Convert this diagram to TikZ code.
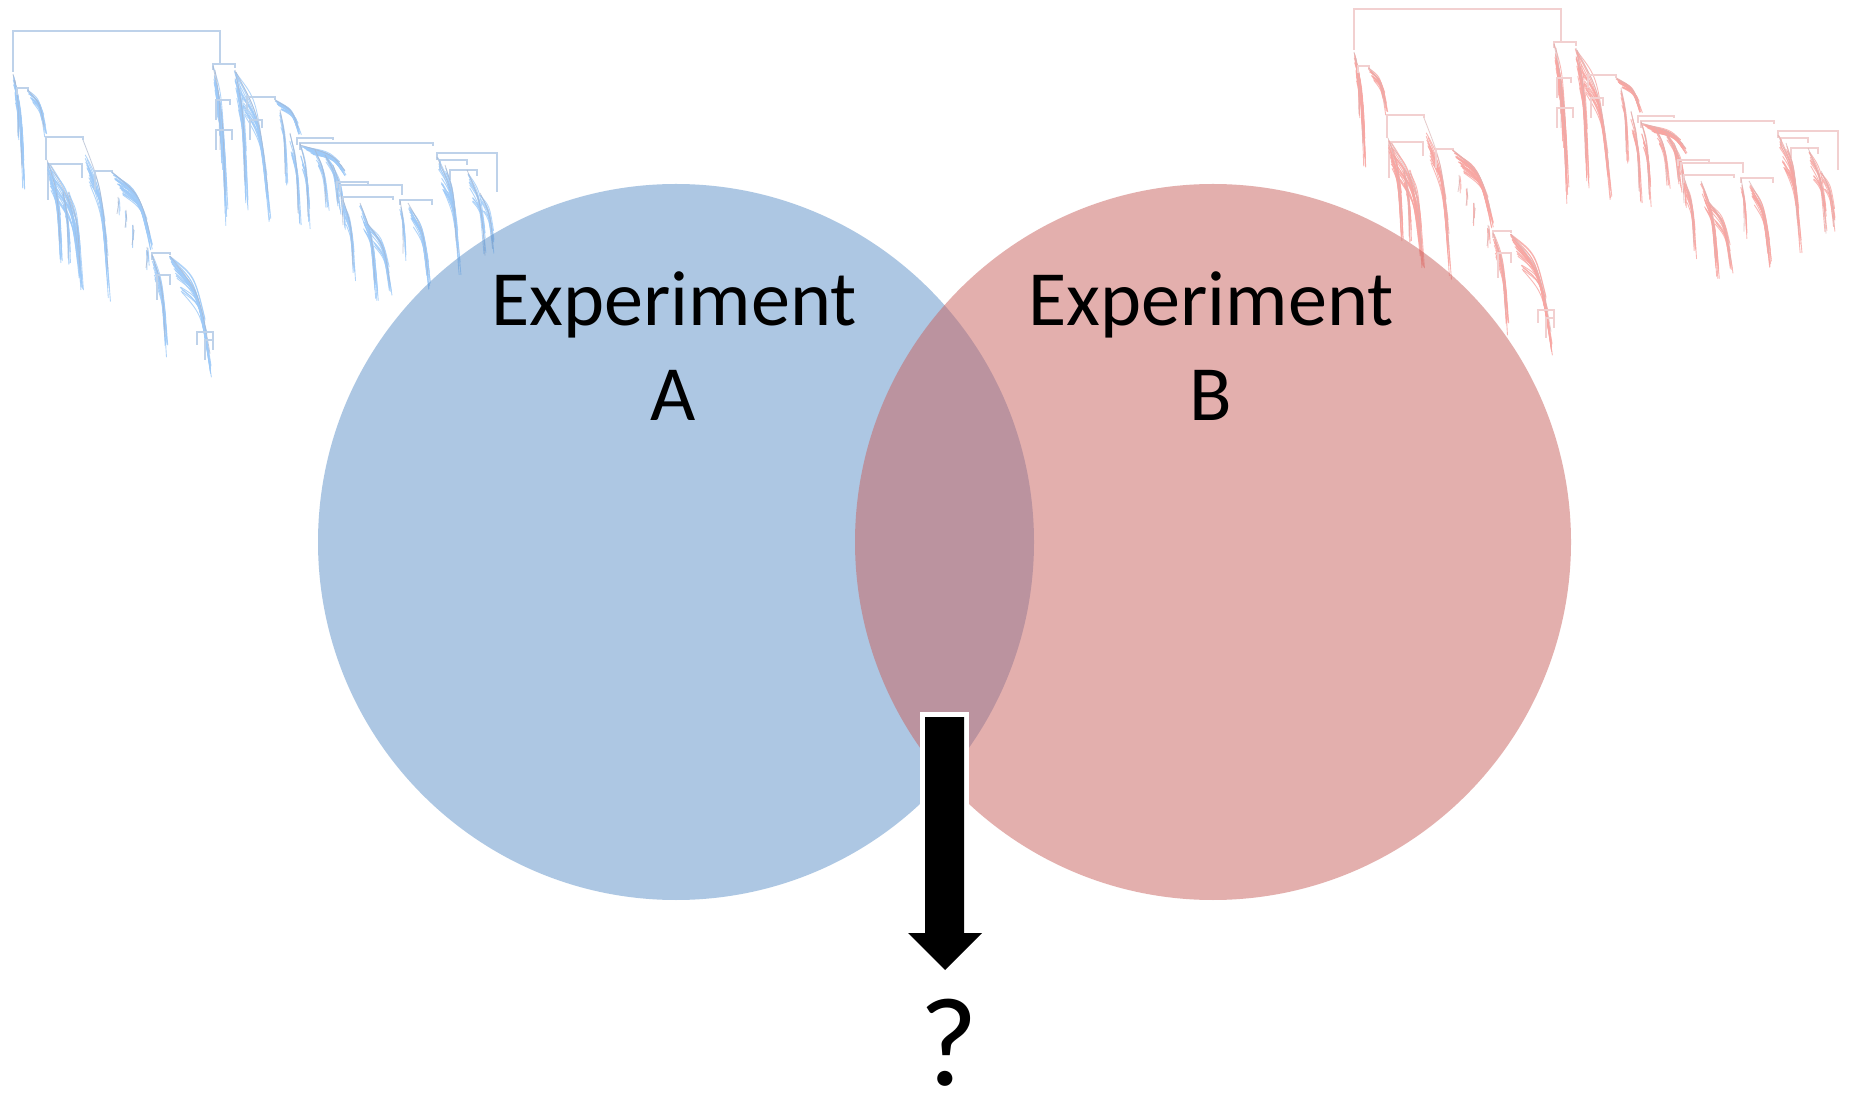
\documentclass[tikz,border=0pt]{standalone}
\usepackage{fontspec}
\setmainfont{Carlito}
\definecolor{blueA}{RGB}{93,145,201}
\definecolor{redB}{RGB}{201,97,93}
\definecolor{bleaf}{RGB}{158,202,248}
\definecolor{bdark}{RGB}{170,182,204}
\definecolor{bbrk}{RGB}{190,210,234}
\definecolor{rleaf}{RGB}{248,166,162}
\definecolor{rdark}{RGB}{218,180,180}
\definecolor{rbrk}{RGB}{242,208,208}

% one bracket of the tree: left x, right x, height, left leg end, right leg end
\newcommand\brk[5]{\draw[brkline] (#1,#4) -- (#1,#3) -- (#2,#3) -- (#2,#5);}
% a bundle of leaf branches hanging from (#1,#2) towards (#3,#4)
\newcommand\strand[5]{%
  \pgfmathtruncatemacro\cnt{2*#5}%
  \foreach \k in {1,...,\cnt}{%
    \pgfmathsetmacro\ua{0.3*rnd}%
    \pgfmathsetmacro\ub{0.5*rnd}%
    \pgfmathsetmacro\sx{#1+(#3-#1)*\ua+rand}%
    \pgfmathsetmacro\sy{#2+(#4-#2)*\ua}%
    \pgfmathsetmacro\ex{#3-(#3-#1)*\ub*0.4+1.5*rand}%
    \pgfmathsetmacro\ey{#4-(#4-#2)*\ub}%
    \draw[leafline] (\sx,\sy) .. controls ({\sx+0.7*(\ex-\sx)},{\sy+0.3*(\ey-\sy)}) .. (\ex,\ey);
  }%
  \draw[darkline] (#1,#2) .. controls ({#1+0.7*(#3-#1)},{#2+0.3*(#4-#2)}) .. ({#3-2},{#4-0.2*(#4-#2)});
}
% the whole clustering tree
\newcommand\dendro{%
  \pgfmathsetseed{11}%
  \brk{13}{220}{31}{72}{63}
  % left half
  \strand{13}{74}{24}{192}{10}
  \strand{15}{80}{20}{150}{5}
  \brk{17}{28}{88}{95}{92}
  \strand{28}{90}{46}{137}{8}
  \brk{46}{83}{137}{160}{140}
  \brk{48}{82}{164}{200}{178}
  \strand{47}{160}{62}{265}{8}
  \strand{50}{165}{82}{292}{8}
  \strand{63}{192}{70}{275}{4}
  \strand{68}{192}{82}{290}{5}
  \strand{83}{140}{110}{302}{8}
  \brk{95}{112}{171}{190}{172}
  \strand{112}{172}{152}{250}{14}
  \strand{118}{197}{119}{218}{1}
  \strand{126}{210}{127}{232}{1}
  \strand{133}{225}{134}{250}{1}
  \strand{147}{247}{148}{273}{2}
  \brk{152}{170}{253}{260}{255}
  \strand{152}{255}{167}{357}{8}
  \strand{170}{256}{212}{378}{12}
  \brk{157}{170}{275}{300}{285}
  \brk{197}{213}{332}{345}{340}
  \brk{205}{213}{340}{360}{350}
  % right half
  \brk{213}{235}{64}{70}{68}
  \strand{213}{66}{227}{227}{10}
  \strand{215}{70}{222}{170}{5}
  \brk{216}{230}{100}{120}{105}
  \brk{216}{232}{130}{150}{140}
  \strand{235}{70}{247}{210}{8}
  \strand{236}{72}{270}{223}{8}
  \brk{247}{275}{97}{110}{100}
  \brk{250}{262}{120}{140}{128}
  \strand{275}{100}{300}{135}{10}
  \strand{280}{110}{287}{190}{4}
  \strand{290}{133}{300}{233}{5}
  \brk{297}{333}{138}{145}{140}
  \brk{300}{433}{143}{150}{146}
  \strand{300}{145}{347}{177}{12}
  \strand{300}{143}{310}{235}{5}
  \strand{315}{150}{328}{215}{4}
  \strand{325}{155}{340}{215}{4}
  \strand{333}{165}{345}{240}{3}
  \brk{337}{368}{182}{188}{185}
  \brk{340}{402}{185}{192}{195}
  \brk{343}{393}{197}{205}{200}
  \brk{400}{432}{200}{205}{205}
  \strand{343}{200}{355}{283}{6}
  \strand{360}{203}{377}{303}{7}
  \strand{367}{223}{392}{300}{6}
  \strand{400}{200}{405}{267}{4}
  \strand{408}{203}{430}{293}{7}
  \brk{437}{497}{153}{160}{192}
  \brk{440}{467}{160}{170}{165}
  \brk{450}{477}{170}{180}{176}
  \strand{437}{157}{460}{277}{7}
  \strand{445}{165}{458}{260}{4}
  \strand{467}{170}{487}{277}{6}
  \strand{480}{193}{495}{263}{4}
}

\begin{document}
\begin{tikzpicture}[x=0.02cm,y=-0.02cm,
  leafline/.style={draw=bleaf,line width=0.5pt,line cap=round,opacity=0.8},
  darkline/.style={draw=bdark,line width=0.45pt,opacity=0.7},
  brkline/.style={draw=bbrk,line width=0.7pt},
  lbl/.style={font=\fontsize{44.5}{50}\selectfont,inner sep=0pt},
  qmark/.style={font=\fontsize{72}{76}\selectfont,inner sep=0pt}]
\useasboundingbox (0,0) rectangle (1849,1097);
\fill[white] (0,0) rectangle (1849,1097);

% blue tree, top left
\begin{scope}
  \dendro
\end{scope}
% red tree, top right
\begin{scope}[shift={(1341,-22)},
  leafline/.style={draw=rleaf,line width=0.5pt,line cap=round,opacity=0.8},
  darkline/.style={draw=rdark,line width=0.45pt,opacity=0.7},
  brkline/.style={draw=rbrk,line width=0.7pt}]
  \dendro
\end{scope}

% the two experiments
\fill[blueA,opacity=0.5] (676,542) circle[radius=358];
\fill[redB,opacity=0.5] (1213,542) circle[radius=358];

\node[lbl,anchor=base] (expA1) at (674,326) {Experiment};
\node[lbl,anchor=base] (expA2) at (673,421) {A};
\node[lbl,anchor=base] (expB1) at (1211,326) {Experiment};
\node[lbl,anchor=base] (expB2) at (1211,421) {B};

% block arrow out of the overlap
\draw[white,line width=5.67pt,line join=miter]
  (925,717) -- (964,717) -- (964,933) -- (982,933) -- (945,970) -- (908,933) -- (925,933) -- cycle;
\fill[black]
  (925,717) -- (964,717) -- (964,933) -- (982,933) -- (945,970) -- (908,933) -- (925,933) -- cycle;

\node[qmark,anchor=base] (qm) at (949,1085) {?};
\end{tikzpicture}
\end{document}
